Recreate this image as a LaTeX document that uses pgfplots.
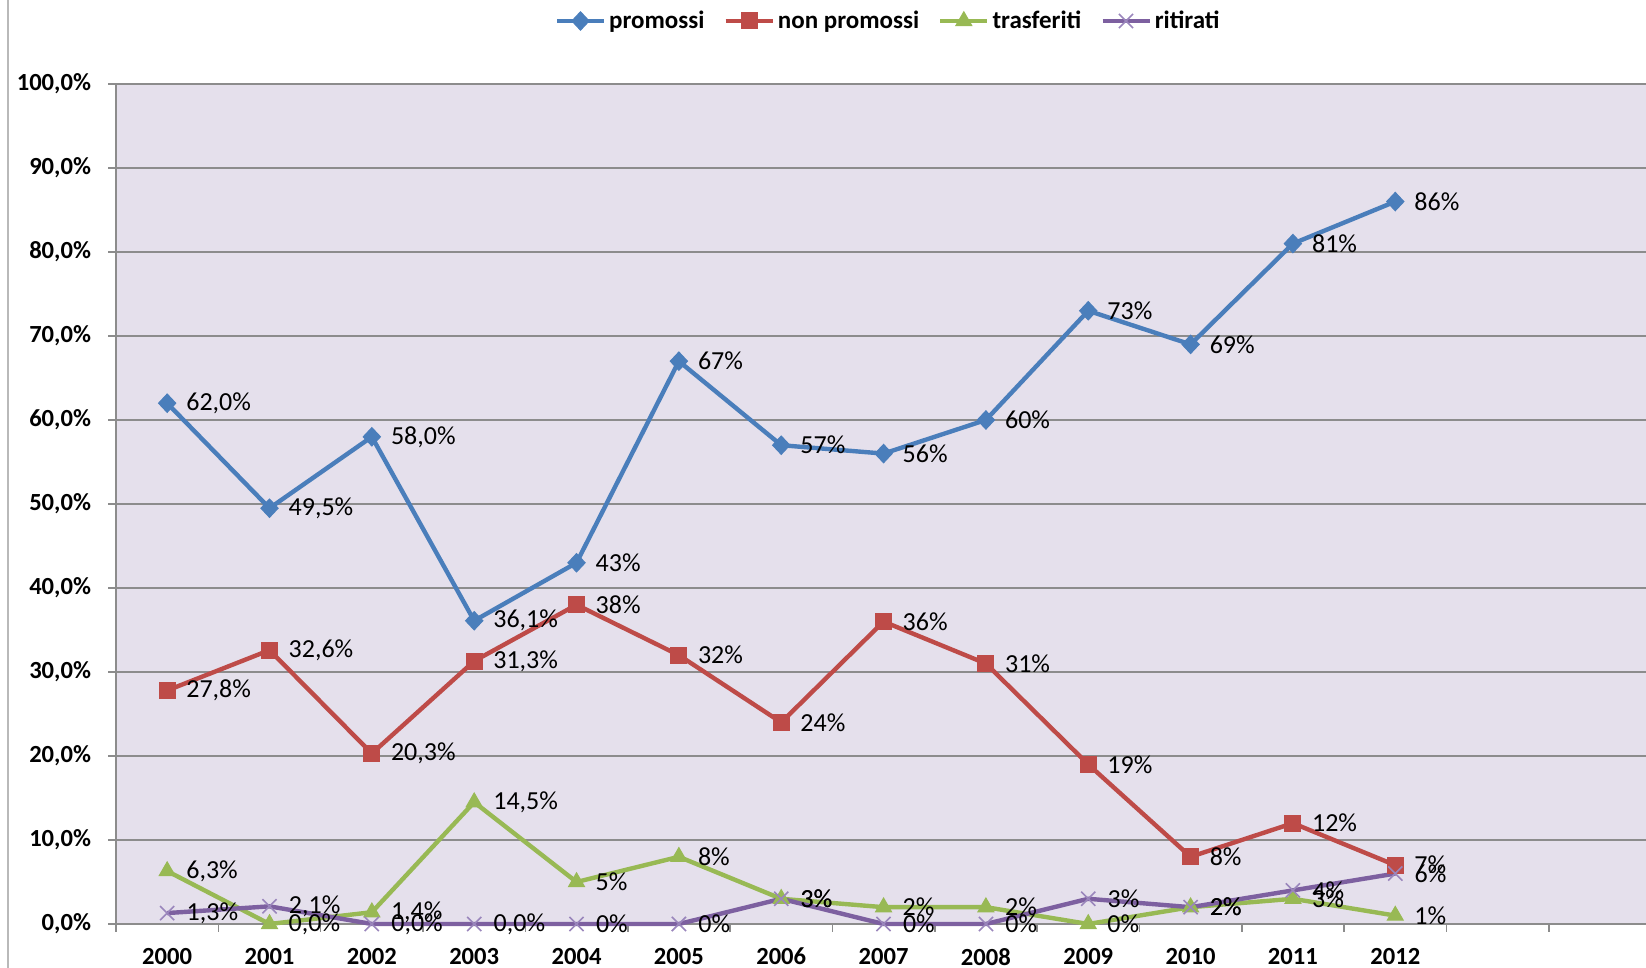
\documentclass[border=0pt]{standalone}
\usepackage{fontspec}
\setmainfont{Carlito}
\usepackage{pgfplots}
\pgfplotsset{compat=1.18}

\definecolor{cblue}{HTML}{4A7EBB}
\definecolor{cred}{HTML}{BE4B48}
\definecolor{cgreen}{HTML}{98B954}
\definecolor{cpurple}{HTML}{7D60A0}
\definecolor{cpurplel}{HTML}{9A86BC}
\definecolor{bgc}{HTML}{E5E0EC}
\definecolor{gridc}{HTML}{8C8C8C}

\begin{document}
\begin{tikzpicture}
\path[use as bounding box] (0pt,0pt) rectangle (823pt,484pt);
\draw[draw=gray!55, line width=0.8pt] (4pt,0pt) -- (4pt,484pt);
\begin{axis}[
    at={(58pt,22pt)}, anchor=south west,
    scale only axis, width=765pt, height=420pt,
    xmin=-0.5, xmax=14.45, ymin=0, ymax=100,
    clip=false,
    axis background/.style={fill=bgc},
    axis x line*=bottom, axis y line*=left,
    axis line style={draw=gridc, line width=0.8pt, -},
    tick style={draw=gridc, line width=0.8pt},
    tick align=outside, major tick length=4pt,
    ymajorgrids, major grid style={draw=gridc, line width=0.8pt},
    ytick={0,10,...,100},
    yticklabel={\pgfmathprintnumber[fixed,fixed zerofill,precision=1,use comma]{\tick}\%},
    /pgf/number format/assume math mode=true,
    ticklabel style={font=\bfseries\fontsize{12.3}{14}\selectfont, text=black},
    yticklabel style={xshift=-5pt},
    xtick={-0.5,0.5,...,13.5},
    xticklabels={},
    extra x ticks={0,1,...,12},
    extra x tick labels={2000,2001,2002,2003,2004,2005,2006,2007,2008,2009,2010,2011,2012},
    extra x tick style={major tick length=0pt, xticklabel style={yshift=-8.5pt}},
    legend columns=4,
    legend style={at={(rel axis cs:0.505,1.075)}, anchor=center, draw=none, fill=none,
        font=\bfseries\fontsize{12.5}{14}\selectfont, column sep=0pt,
        nodes={inner sep=1.5pt},
        /tikz/every even column/.append style={column sep=8pt}},
    legend image code/.code={\draw[mark repeat=2,mark phase=2] plot coordinates {(0pt,0pt) (11.75pt,0pt) (23.5pt,0pt)};},
    nodes near coords,
    point meta=explicit symbolic,
    every node near coord/.append style={anchor=west, xshift=6pt, text=black,
        font=\fontsize{13}{15}\selectfont},
]
\addplot[color=cblue, line width=2.2pt, mark=diamond*, mark size=4.6pt, mark options={solid, line width=0.5pt, fill=cblue, xscale=1.25}] coordinates {
    (0,62.0) [62,0\%]
    (1,49.5) [49,5\%]
    (2,58.0) [58,0\%]
    (3,36.1) [36,1\%]
    (4,43) [43\%]
    (5,67) [67\%]
    (6,57) [57\%]
    (7,56) [56\%]
    (8,60) [60\%]
    (9,73) [73\%]
    (10,69) [69\%]
    (11,81) [81\%]
    (12,86) [86\%]
};
\addlegendentry{promossi}

\addplot[color=cred, line width=2.2pt, mark=square*, mark size=4pt, mark options={solid, line width=0.5pt, fill=cred}] coordinates {
    (0,27.8) [27,8\%]
    (1,32.6) [32,6\%]
    (2,20.3) [20,3\%]
    (3,31.3) [31,3\%]
    (4,38) [38\%]
    (5,32) [32\%]
    (6,24) [24\%]
    (7,36) [36\%]
    (8,31) [31\%]
    (9,19) [19\%]
    (10,8) [8\%]
    (11,12) [12\%]
    (12,7) [7\%]
};
\addlegendentry{non promossi}

\addplot[color=cgreen, line width=2.2pt, mark=triangle*, mark size=4.6pt, mark options={solid, line width=0.5pt, fill=cgreen}] coordinates {
    (0,6.3) [6,3\%]
    (1,0.0) [0,0\%]
    (2,1.4) [1,4\%]
    (3,14.5) [14,5\%]
    (4,5) [5\%]
    (5,8) [8\%]
    (6,3) [3\%]
    (7,2) [2\%]
    (8,2) [2\%]
    (9,0) [0\%]
    (10,2) [2\%]
    (11,3) [3\%]
    (12,1) [1\%]
};
\addlegendentry{trasferiti}

\addplot[color=cpurple, line width=2.2pt, mark=x, mark size=5pt, mark options={solid, line width=0.8pt, draw=cpurplel}] coordinates {
    (0,1.3) [1,3\%]
    (1,2.1) [2,1\%]
    (2,0.0) [0,0\%]
    (3,0.0) [0,0\%]
    (4,0) [0\%]
    (5,0) [0\%]
    (6,3) [3\%]
    (7,0) [0\%]
    (8,0) [0\%]
    (9,3) [3\%]
    (10,2) [2\%]
    (11,4) [4\%]
    (12,6) [6\%]
};
\addlegendentry{ritirati}
\end{axis}
\end{tikzpicture}
\end{document}
